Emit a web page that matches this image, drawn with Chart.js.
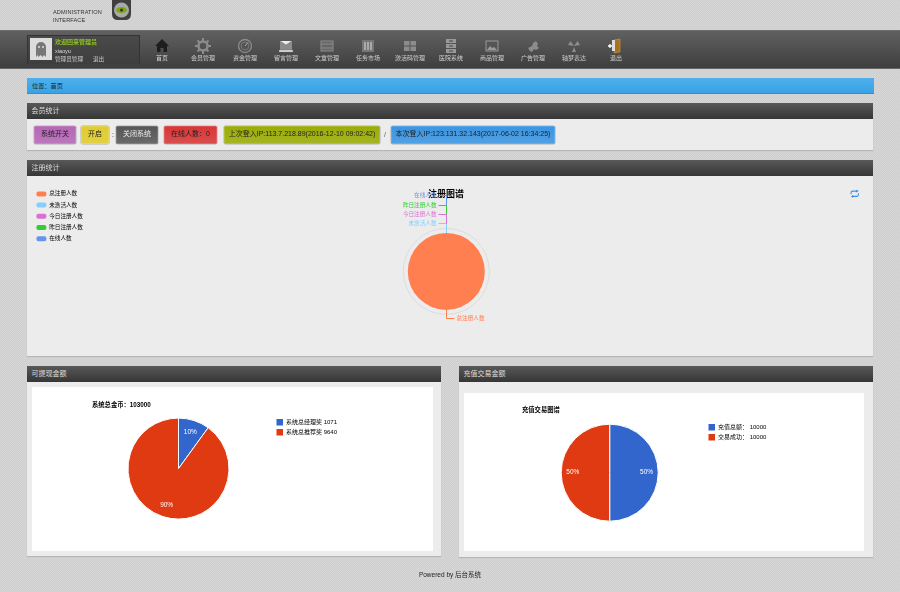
<!DOCTYPE html>
<html lang="zh"><head><meta charset="utf-8"><title>后台系统</title>
<script src="https://cdn.jsdelivr.net/npm/chart.js@4"></script>
<style>
*{box-sizing:border-box}
html,body{margin:0;padding:0;width:900px;height:592px;overflow:hidden}
body{position:relative;font:7px "Liberation Sans","Noto Sans CJK SC",sans-serif;color:#222;
 background:#d2d2d2 repeating-conic-gradient(#cfcfcf 0 25%,#d6d6d6 0 50%) 0 0/2px 2px;filter:blur(.45px)}
.a{position:absolute;white-space:nowrap}
.brand{left:53px;top:9px;font:5.6px/7.5px "Liberation Sans",sans-serif;color:#333;letter-spacing:.1px}
.nav{left:0;top:30px;width:900px;height:38.5px;background:linear-gradient(#606060,#565656 30%,#3e3e3e);border-top:1px solid #6c6c6c;border-bottom:1px solid #666}
.user{left:27px;top:35px;width:113px;height:29px;border:1px solid #333;border-bottom:0;background:linear-gradient(#4a4a4a,#3e3e3e)}
.item{width:42px;text-align:center;top:53px;color:#cfcfcf;font-size:6px;line-height:11px}
.crumb{left:27px;top:78px;width:847px;height:16px;background:linear-gradient(#4eb0ea,#38a2e6);border-bottom:1px solid #2f8fd0;font-size:6.2px;line-height:15px;padding-left:5px;color:#222}
.head{height:16px;background:linear-gradient(#585858,#363636);color:#ddd;font-size:7px;line-height:16px;padding-left:4.5px}
.body{background:#ececec;box-shadow:0 1px 1px #b5b5b5}
.btn{top:126px;height:17.5px;line-height:16px;text-align:center;border-radius:1.5px;color:#222;font-size:7px;box-shadow:inset 0 0 0 1px rgba(255,255,255,.15),0 0 0 .5px rgba(0,0,0,.25)}
.white{background:#fff}
canvas{position:absolute;display:block}
</style></head><body>
<div class="a brand">ADMINISTRATION<br>INTERFACE</div>
<svg class="a" style="left:112px;top:0" width="19" height="21" viewBox="0 0 19 21"><path d="M0 0h19v14q0 6-6 6H6q-6 0-6-6z" fill="#404040"/><circle cx="9.5" cy="10" r="7.5" fill="#a9a9a9"/><ellipse cx="9.5" cy="10" rx="5.5" ry="3" fill="#7ea60e"/><circle cx="9.5" cy="10" r="1.5" fill="#333"/></svg>

<div class="a nav"></div>
<div class="a user"></div>
<svg class="a" style="left:30px;top:38px" width="22" height="22" viewBox="0 0 22 22"><rect width="22" height="22" fill="#dcdcdc"/><path d="M6 19V9a5 5 0 0 1 10 0v10l-2-2-1.500 2-2-2-2 2-1-2z" fill="#777"/><circle cx="9" cy="9" r="1" fill="#ddd"/><circle cx="13" cy="9" r="1" fill="#ddd"/></svg>
<div class="a" style="left:55px;top:36.5px;color:#8fc31f;font-size:6px;line-height:11px;font-weight:700">欢迎回来管理员</div>
<div class="a" style="left:55px;top:46.5px;color:#ddd;font-size:5.5px;line-height:9px">xiaoyu</div>
<div class="a" style="left:55px;top:53.5px;color:#c8c8c8;font-size:5.6px;line-height:11px">管理员管理</div>
<div class="a" style="left:93px;top:53.5px;color:#c8c8c8;font-size:5.6px;line-height:11px">退出</div>
<div id="navRow"></div>

<div class="a crumb">位置：首页</div>

<div class="a head" style="left:27px;top:103px;width:846px">会员统计</div>
<div class="a body" style="left:27px;top:119px;width:846px;height:31px"></div>
<div id="btnRow"></div>

<div class="a head" style="left:27px;top:160px;width:846px">注册统计</div>
<div class="a body" style="left:27px;top:176px;width:846px;height:180px"></div>
<canvas id="regChart" width="846" height="180" style="left:27px;top:176px;width:846px;height:180px"></canvas>
<svg class="a" style="left:850px;top:188.5px" width="9.5" height="9.5" viewBox="0 0 9 9" fill="none" stroke="#3f8fe8" stroke-width="1"><path d="M1 5V3.500Q1 2 2.500 2H7M6 1l1.300 1L6 3M8 4v1.500Q8 7 6.500 7H2M3 6 1.700 7 3 8"/></svg>

<div class="a head" style="left:27px;top:366px;width:414px">可提现金额</div>
<div class="a body" style="left:27px;top:382px;width:414px;height:174px"></div>
<div class="a white" style="left:32px;top:387px;width:401px;height:164px"></div>
<canvas id="cashChart" width="401" height="164" style="left:32px;top:387px;width:401px;height:164px"></canvas>

<div class="a head" style="left:459px;top:366px;width:414px">充值交易金额</div>
<div class="a body" style="left:459px;top:382px;width:414px;height:175px"></div>
<div class="a white" style="left:464px;top:393px;width:400px;height:158px"></div>
<canvas id="tradeChart" width="400" height="158" style="left:464px;top:393px;width:400px;height:158px"></canvas>

<div class="a" style="left:0;width:900px;text-align:center;top:569px;font-size:6.5px;line-height:11px;color:#222">Powered by 后台系统</div>

<script>
// ---- data ----
const navLabels = ['首页','会员管理','资金管理','留言管理','文章管理','任务市场','激活码管理','医院系统','商品管理','广告管理','轴梦表达','退出'];
const navIcons  = ['home','gear','dial','mail','film','bars','grid','file','photo','puzzle','nuke','door'];
const buttonTexts = ['系统开关','开启','关闭系统','在线人数：0','上次登入IP:113.7.218.89(2016-12-10 09:02:42)','本次登入IP:123.131.32.143(2017-06-02 16:34:25)'];

const regLabels = ['总注册人数','未激活人数','今日注册人数','昨日注册人数','在线人数'];
const regValues = [1,0,0,0,0];
const regColors = ['#ff7f50','#87cefa','#da70d6','#32cd32','#6495ed'];
const regTitle = '注册图谱';

const cashTitle = '系统总金币：103000';
const cashLabels = ['系统总经理奖','系统总推荐奖'];
const cashValues = [1071,9640];

const tradeTitle = '充值交易图谱';
const tradeLabels = ['充值总额：','交易成功：'];
const tradeValues = [10000,10000];

const pieColors = ['#3366cc','#e03a12'];
const FONT = '"Liberation Sans","Noto Sans CJK SC",sans-serif';

// ---- page chrome built from the lists ----
const G='#8c8c8c';
const iconSvg = {
 home:`<path d="M1 8 8 1l7 7h-2v6H9.500v-4h-3v4H3V8z" fill="#1e1e1e"/>`,
 gear:`<circle cx="8" cy="8" r="4.500" fill="none" stroke="${G}" stroke-width="2.500"/><path d="M8 0v3M8 13v3M0 8h3M13 8h3M2.500 2.500l2 2M11.500 11.500l2 2M13.500 2.500l-2 2M4.500 11.500l-2 2" stroke="${G}" stroke-width="2"/>`,
 dial:`<circle cx="8" cy="8" r="6.500" fill="none" stroke="${G}" stroke-width="1.300"/><circle cx="8" cy="8" r="4" fill="#555" stroke="#777"/><path d="M8 8l3-3.500" stroke="#aaa"/>`,
 mail:`<path d="M2 3h12v9H2z" fill="${G}"/><path d="M2 3l6 4 6-4M1 12h14v2H1z" fill="#eee" stroke="#666" stroke-width=".5"/>`,
 film:`<rect x="2" y="3" width="12" height="10" fill="#666" stroke="${G}"/><path d="M2 6h12M2 10h12" stroke="${G}"/>`,
 bars:`<rect x="2" y="2" width="12" height="12" fill="#777"/><path d="M5 4v8M8 4v8M11 4v8" stroke="#ddd"/>`,
 grid:`<path d="M2 3h5.500v4.500H2zM8.500 3H14v4.500H8.500zM2 8.500h5.500V13H2zM8.500 8.500H14V13H8.500z" fill="${G}"/>`,
 file:`<path d="M3 1h10v4H3zM3 6h10v4H3zM3 11h10v4H3z" fill="#999"/><path d="M6 3h4M6 8h4M6 13h4" stroke="#444"/>`,
 photo:`<rect x="2" y="3" width="12" height="10" fill="#555" stroke="#999"/><path d="M3 12l3-4 2 2 2-1 3 3z" fill="#999"/>`,
 puzzle:`<path d="M3 10l4-2 1-3 3-2 2 3-1 2 2 2-3 2-2-1-2 3-2-1z" fill="${G}"/>`,
 nuke:`<path d="M8 8 4.500 3 2 7zM8 8l3.500-5L14 7zM8 9l-2 5h4z" fill="${G}"/>`,
 door:`<path d="M6 2l6-1v13l-6 1z" fill="#a9701d" stroke="#d59a3b" stroke-width=".6"/><path d="M4 2h3v11H4z" fill="#ddd"/><path d="M0 8h4M2 6v4" stroke="#fff" stroke-width="1.300"/>`
};
const navX = [141,182,224,265,306,347,389,430,471,512,553,595];
document.getElementById('navRow').innerHTML = navLabels.map((t,i)=>
 `<svg class="a" style="left:${navX[i]+13}px;top:38px" width="16" height="16" viewBox="0 0 16 16">${iconSvg[navIcons[i]]}</svg><div class="a item" style="left:${navX[i]}px">${t}</div>`).join('');

const btnStyles = [[34,42,'#b566b5'],[81,28,'#e0cc2d'],[116,42,'#565656','#eee'],[164,53,'#d83636'],[224,156,'#9aac05'],[391,164,'#3a95e2']];
document.getElementById('btnRow').innerHTML = buttonTexts.map((t,i)=>{
 const [l,w,c,fc]=btnStyles[i];
 return `<div class="a btn" style="left:${l}px;width:${w}px;background:linear-gradient(${c},${c}dd);${fc?'color:'+fc:''}">${t}</div>`;
}).join('')+`<div class="a" style="left:112px;top:129px;line-height:11px">:</div><div class="a" style="left:384px;top:129px;line-height:11px;color:#555">/</div>`;

// ---- chart helpers ----
const placeBoxes = {id:'placeBoxes',afterLayout(chart,_,o){
 const set=(b,p)=>{ if(!b||!p) return; const w=b.width,h=b.height; b.left=p.x;b.top=p.y;b.right=p.x+w;b.bottom=p.y+h; };
 set(chart.legend,o.legend); set(chart.titleBlock,o.title);
}};
const percentLabels = {id:'percentLabels',afterDatasetsDraw(chart){
 const ctx=chart.ctx, vals=chart.data.datasets[0].data, sum=vals.reduce((a,b)=>a+b,0);
 ctx.save();ctx.fillStyle='#fff';ctx.font='6.5px "Liberation Sans",sans-serif';ctx.textAlign='center';ctx.textBaseline='middle';
 chart.getDatasetMeta(0).data.forEach((arc,i)=>{
  const m=(arc.startAngle+arc.endAngle)/2, r=arc.outerRadius*0.76;
  ctx.fillText(Math.round(vals[i]/sum*100)+'%',arc.x+Math.cos(m)*r,arc.y+Math.sin(m)*r);
 });
 ctx.restore();
}};
const ringAndLeaders = {id:'ringAndLeaders',
 beforeDatasetsDraw(chart){
  const arc=chart.getDatasetMeta(0).data[0],ctx=chart.ctx;
  ctx.save();ctx.strokeStyle='#dcdcdc';ctx.lineWidth=1;ctx.beginPath();ctx.arc(arc.x,arc.y,arc.outerRadius+4.500,0,Math.PI*2);ctx.stroke();ctx.restore();
 },
 afterDatasetsDraw(chart,_,o){
  const ctx=chart.ctx,arcs=chart.getDatasetMeta(0).data;
  ctx.save();ctx.font='5.6px '+FONT;ctx.textBaseline='middle';ctx.lineWidth=1;
  const lift=o.lift;
  for(let i=arcs.length-1;i>=0;i--){
   const arc=arcs[i],m=(arc.startAngle+arc.endAngle)/2,c=regColors[i];
   const x0=Math.round(arc.x+Math.cos(m)*arc.outerRadius)+.5,y0=arc.y+Math.sin(m)*arc.outerRadius;
   const dir=Math.sin(m)>0?1:-1, y1=Math.round(y0+dir*lift[i])+.5, side=i===0?1:-1;
   ctx.strokeStyle=c;ctx.beginPath();ctx.moveTo(x0,y0);ctx.lineTo(x0,y1);ctx.lineTo(x0+side*8,y1);ctx.stroke();
   ctx.fillStyle=c;ctx.textAlign=side>0?'left':'right';ctx.fillText(regLabels[i],x0+side*10,y1);
  }
  ctx.restore();
 }};
function legendItems(texts,colors,radius){
 return ()=>texts.map((t,i)=>({text:t,fillStyle:colors[i],strokeStyle:'transparent',lineWidth:0,hidden:false,index:i,borderRadius:radius}));
}
function pie(id,{labels,values,colors,title,titleFont,legendTexts,legendFont,padding,titleAt,legendAt,box,rowGap,radius,border,plugins,extra}){
 return new Chart(document.getElementById(id),{
  type:'pie',
  data:{labels,datasets:[{data:values,backgroundColor:colors,borderColor:border,borderWidth:border==='transparent'?0:1}]},
  options:{responsive:false,animation:false,devicePixelRatio:1,layout:{padding},
   plugins:Object.assign({tooltip:{enabled:false},
    title:{display:true,text:title,color:'#000',align:'start',padding:0,font:{family:FONT,size:titleFont,weight:'bold'}},
    legend:{display:true,position:'chartArea',align:'start',padding:0,
     labels:{generateLabels:legendItems(legendTexts,colors,radius),boxWidth:box[0],boxHeight:box[1],padding:rowGap,useBorderRadius:radius>0,color:'#333',font:{family:FONT,size:legendFont}}},
    placeBoxes:{title:titleAt,legend:legendAt}},extra||{})},
  plugins:[placeBoxes].concat(plugins)
 });
}

// ---- the three charts ----
pie('regChart',{labels:regLabels,values:regValues,colors:regColors,title:regTitle,titleFont:9,legendTexts:regLabels,legendFont:5.6,
 padding:{left:380.8,right:388.2,top:46,bottom:46},titleAt:{x:401,y:13},legendAt:{x:3.8,y:9.5},box:[10,5],rowGap:5.6,radius:2,border:'transparent',
 plugins:[ringAndLeaders],extra:{ringAndLeaders:{lift:[8,9.5,19,28,38]}}});

pie('cashChart',{labels:cashLabels,values:cashValues,colors:pieColors,title:cashTitle,titleFont:6.3,
 legendTexts:cashLabels.map((t,i)=>t+' '+cashValues[i]),legendFont:6,
 padding:{left:95.5,right:203.5,top:23,bottom:31.4},titleAt:{x:60,y:14.5},legendAt:{x:241,y:28.5},box:[6.5,6.5],rowGap:3.5,radius:0,border:'#fff',
 plugins:[percentLabels]});

pie('tradeChart',{labels:tradeLabels,values:tradeValues,colors:pieColors,title:tradeTitle,titleFont:6.3,
 legendTexts:tradeLabels.map((t,i)=>t+' '+tradeValues[i]),legendFont:6,
 padding:{left:96.7,right:205.3,top:23.1,bottom:29.3},titleAt:{x:58,y:13.5},legendAt:{x:241,y:27.5},box:[6.5,6.5],rowGap:3.5,radius:0,border:'#fff',
 plugins:[percentLabels]});
</script>
</body></html>
